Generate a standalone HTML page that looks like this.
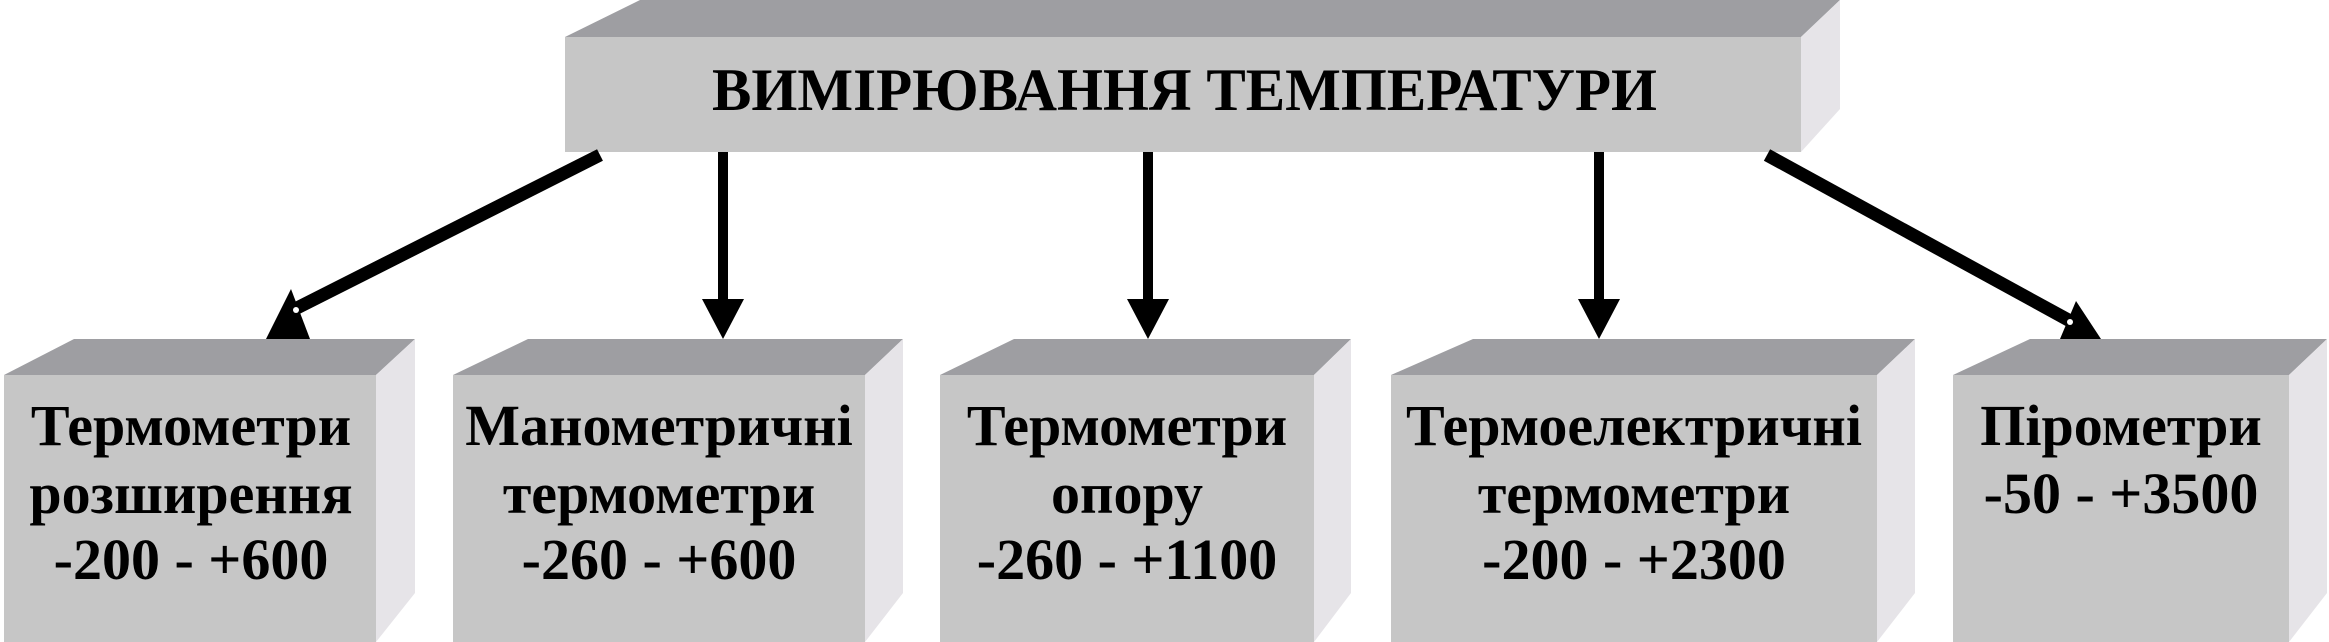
<!DOCTYPE html>
<html><head><meta charset="utf-8"><style>
html,body{margin:0;padding:0;background:#fff;width:2329px;height:642px;overflow:hidden}
text{font-family:"Liberation Serif","DejaVu Serif",serif;font-weight:bold;fill:#000}
</style></head><body>
<svg width="2329" height="642" viewBox="0 0 2329 642" xmlns="http://www.w3.org/2000/svg">
<!-- top box -->
<polygon points="565,37 640,0 1840,0 1801,37" fill="#9e9ea2"/>
<polygon points="1801,37 1840,0 1840,109 1801,152" fill="#e6e4e8"/>
<rect x="565" y="37" width="1236" height="115" fill="#c6c6c6"/>
<text x="712" y="110" font-size="60" textLength="945" lengthAdjust="spacingAndGlyphs">ВИМІРЮВАННЯ ТЕМПЕРАТУРИ</text>

<!-- boxes -->
<g>
<polygon points="4,375 74,339 415,339 376,375" fill="#9e9ea2"/>
<polygon points="376,375 415,339 415,593 376,642" fill="#e6e4e8"/>
<rect x="4" y="375" width="372" height="267" fill="#c6c6c6"/>
</g>
<g>
<polygon points="453,375 528,339 903,339 865,375" fill="#9e9ea2"/>
<polygon points="865,375 903,339 903,593 865,642" fill="#e6e4e8"/>
<rect x="453" y="375" width="412" height="267" fill="#c6c6c6"/>
</g>
<g>
<polygon points="940,375 1014,339 1351,339 1314,375" fill="#9e9ea2"/>
<polygon points="1314,375 1351,339 1351,593 1314,642" fill="#e6e4e8"/>
<rect x="940" y="375" width="374" height="267" fill="#c6c6c6"/>
</g>
<g>
<polygon points="1391,375 1473,339 1915,339 1877,375" fill="#9e9ea2"/>
<polygon points="1877,375 1915,339 1915,593 1877,642" fill="#e6e4e8"/>
<rect x="1391" y="375" width="486" height="267" fill="#c6c6c6"/>
</g>
<g>
<polygon points="1953,375 2030,339 2327,339 2289,375" fill="#9e9ea2"/>
<polygon points="2289,375 2327,339 2327,593 2289,642" fill="#e6e4e8"/>
<rect x="1953" y="375" width="336" height="267" fill="#c6c6c6"/>
</g>

<!-- texts -->
<g font-size="58" text-anchor="middle">
<text x="191" y="445">Термометри</text>
<text x="191" y="513">розширення</text>
<text x="191" y="579">-200 - +600</text>
<text x="659" y="445">Манометричні</text>
<text x="659" y="513">термометри</text>
<text x="659" y="579">-260 - +600</text>
<text x="1127" y="445">Термометри</text>
<text x="1127" y="513">опору</text>
<text x="1127" y="579">-260 - +1100</text>
<text x="1634" y="445">Термоелектричні</text>
<text x="1634" y="513">термометри</text>
<text x="1634" y="579">-200 - +2300</text>
<text x="2121" y="445">Пірометри</text>
<text x="2121" y="513">-50 - +3500</text>
</g>

<!-- arrows -->
<g stroke="#000" fill="none">
<line x1="600" y1="155" x2="293" y2="310" stroke-width="13"/>
<line x1="723" y1="152" x2="723" y2="305" stroke-width="10"/>
<line x1="1148" y1="152" x2="1148" y2="305" stroke-width="10"/>
<line x1="1599" y1="152" x2="1599" y2="305" stroke-width="10"/>
<line x1="1767" y1="155" x2="2072" y2="322" stroke-width="13"/>
</g>
<g fill="#000">
<polygon points="291,289 266,339 310,339"/>
<polygon points="702,299 744,299 723,339"/>
<polygon points="1127,299 1169,299 1148,339"/>
<polygon points="1578,299 1620,299 1599,339"/>
<polygon points="2076,301 2060,339 2101,339"/>
</g>
<circle cx="296" cy="310" r="3" fill="#fff"/>
<circle cx="2070" cy="322" r="3" fill="#fff"/>
</svg>
</body></html>
